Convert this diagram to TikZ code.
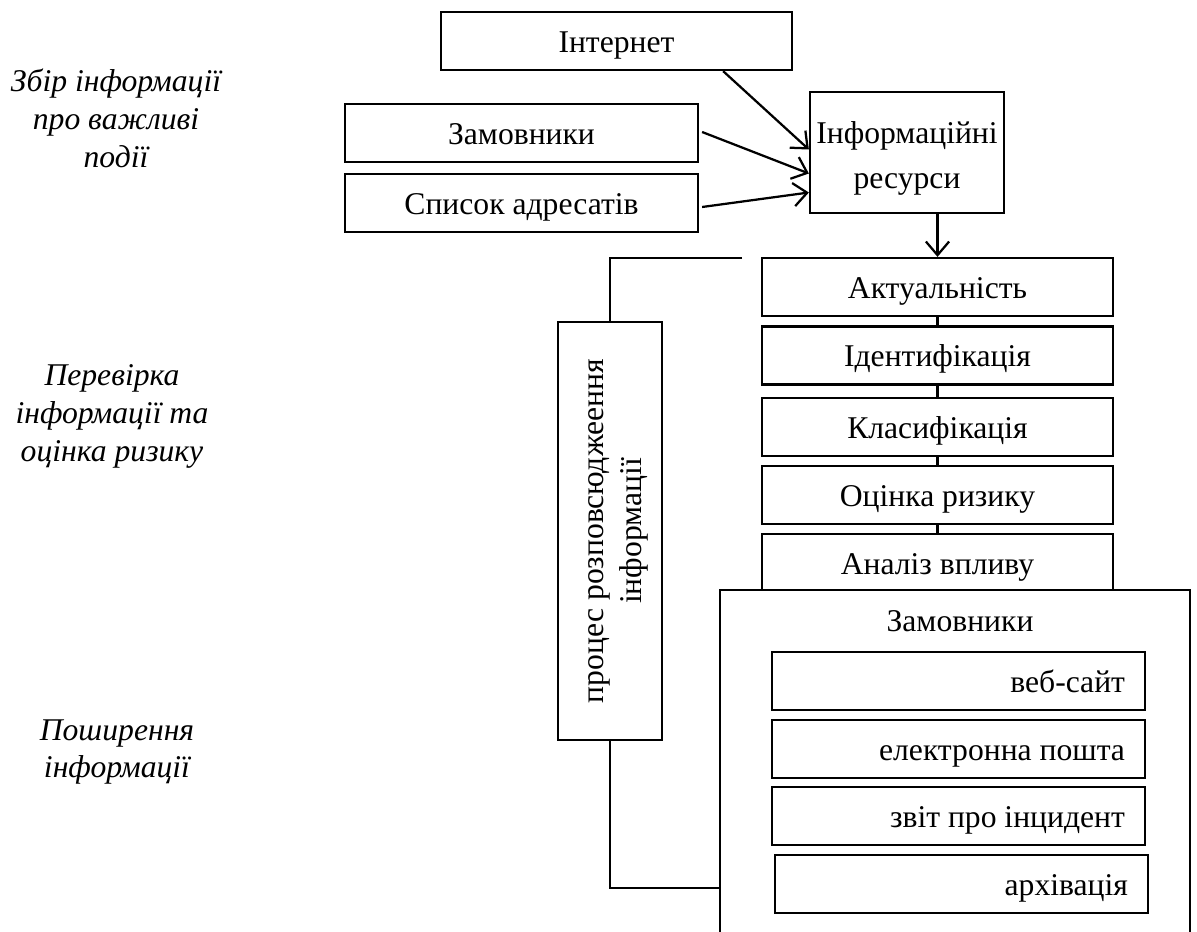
\documentclass[tikz,border=0pt]{standalone}
\usepackage{fontspec}
\setmainfont{Liberation Serif}
\usetikzlibrary{arrows.meta,calc}
\begin{document}
\begin{tikzpicture}[x=0.025cm,y=-0.025cm,
  every node/.style={font=\fontsize{22.5}{27}\selectfont},
  box/.style={draw,line width=1.6pt,inner sep=0pt,align=center},
  one/.style={text height=16pt,text depth=0pt},
  wbox/.style={box,one,minimum width=351*0.025cm,minimum height=58*0.025cm},
  rbox/.style={draw,one,line width=1.6pt,align=flush right,inner ysep=0pt,inner xsep=0.5cm,text width=333*0.025cm,minimum height=58*0.025cm},
  lab/.style={align=center,font=\fontsize{22.5}{27}\selectfont\itshape},
  conn/.style={line width=1.6pt},
  arr/.style={line width=1.6pt,-{Straight Barb[length=3.4mm,width=5.8mm,line width=1.6pt]}}]
\clip (0,0) rectangle (1197,932);
\fill[white] (0,0) rectangle (1197,932);
% left labels
\node[lab] (l1) at (116,118) {Збір інформації\\про важливі\\події};
\node[lab] (l2) at (112,416) {Перевірка\\інформації та\\оцінка ризику};
\node[lab] (l3) at (117,752) {Поширення\\інформації};
% top sources
\node[box,one,minimum width=351*0.025cm,minimum height=58*0.025cm] (inet) at (616.5,41) {Інтернет};
\node[box,one,minimum width=353*0.025cm,minimum height=58*0.025cm] (cust) at (521.5,133) {Замовники};
\node[box,one,minimum width=353*0.025cm,minimum height=58*0.025cm] (list) at (521.5,203) {Список адресатів};
\node[box,minimum width=194*0.025cm,minimum height=121*0.025cm] (res) at (907,152.5) {\rule{0pt}{24pt}Інформаційні\\[5pt]ресурси};
\draw[arr] ($(inet.south east)+(-70,0)$) -- ($(res.west)+(0,-3)$);
\draw[arr] ($(cust.east)+(3,-1)$) -- ($(res.west)+(0,21)$);
\draw[arr] ($(list.east)+(3,4)$) -- ($(res.west)+(0,40)$);
% stack
\node[wbox] (act) at (937.5,287) {Актуальність};
\node[wbox] (ident) at (937.5,355.5) {Ідентифікація};
\node[wbox] (cls) at (937.5,427) {Класифікація};
\node[wbox] (risk) at (937.5,495) {Оцінка ризику};
\node[wbox] (imp) at (937.5,563) {Аналіз впливу};
\draw[arr] (res.south -| act.north) -- (act.north);
\draw[conn] (act) -- (ident);
\draw[conn] (ident) -- (cls);
\draw[conn] (cls) -- (risk);
\draw[conn] (risk) -- (imp);
% big box
\node[box,fill=white,minimum width=470*0.025cm,minimum height=370*0.025cm] (big) at (955,775) {};
\node[one] (bigt) at (960,620) {Замовники};
\node[rbox] (web) at (958.5,681) {веб-сайт};
\node[rbox] (mail) at (958.5,749) {електронна пошта};
\node[rbox] (rep) at (958.5,816) {звіт про інцидент};
\node[rbox] (arch) at (961.5,884) {архівація};
% vertical box
\node[box,rotate=90,minimum width=418*0.025cm,minimum height=104*0.025cm] (vert) at (610,531) {\rule{0pt}{22pt}процес розповсюджеення\\інформації};
\coordinate (bt) at (742,258);
\coordinate (bb) at (720,888);
\draw[conn] (bt) -| (vert.east);
\draw[conn] (vert.west) |- (bb);
\end{tikzpicture}
\end{document}
